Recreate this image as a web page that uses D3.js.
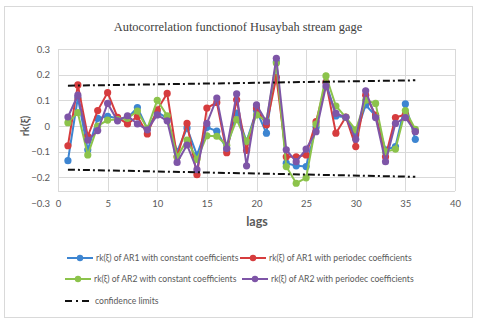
<!DOCTYPE html>
<meta charset="utf-8">
<style>
  body { margin: 0; background: #fff; }
  text { font-family: Lato, "Open Sans", sans-serif; fill: #595959; }
</style>
<svg width="480" height="323"></svg>
<script src="https://cdn.jsdelivr.net/npm/d3@7"></script>
<script>

var lags = d3.range(1, 37);

var ar1Const = [-0.135, 0.11, -0.093, 0.03, 0.038, 0.03, 0.03, 0.072, -0.01, 0.055, 0.03, -0.10, -0.008, -0.113, -0.005, -0.02, -0.09, 0.05, -0.06, 0.06, -0.028, 0.25, -0.145, -0.155, -0.158, -0.005, 0.17, 0.039, 0.034, -0.035, 0.082, 0.04, -0.093, -0.08, 0.086, -0.052];
var ar1Period = [-0.077, 0.16, -0.04, 0.06, 0.13, 0.034, 0.008, 0.037, -0.031, 0.063, 0.127, -0.12, 0.01, -0.19, 0.07, 0.092, -0.104, 0.102, -0.095, 0.07, 0.004, 0.19, -0.12, -0.12, -0.113, 0.017, 0.17, -0.028, 0.035, -0.08, 0.12, 0.042, -0.12, 0.033, 0.045, -0.02];
var ar2Const = [0.013, 0.052, -0.113, 0.0, 0.023, 0.025, 0.03, 0.058, -0.01, 0.1, 0.04, -0.12, -0.055, -0.13, -0.038, -0.04, -0.075, 0.025, -0.06, 0.043, 0.02, 0.245, -0.158, -0.223, -0.202, 0.007, 0.195, 0.078, 0.034, -0.015, 0.1, 0.088, -0.1, -0.09, 0.06, -0.013];
var ar2Period = [0.035, 0.12, -0.055, -0.018, 0.088, 0.02, 0.04, 0.008, -0.015, 0.043, 0.02, -0.142, -0.074, -0.17, 0.01, 0.109, -0.088, 0.125, -0.155, 0.082, 0.017, 0.264, -0.093, -0.139, -0.09, -0.022, 0.156, 0.049, 0.034, -0.052, 0.137, 0.033, -0.139, 0.01, 0.033, -0.022];

// confidence limits at lag 1 and lag 36
var confLags = [1, 36];
var confUpper = [0.157, 0.178];
var confLower = [-0.17, -0.198];

var yTicks = [0.3, 0.2, 0.1, 0, -0.1, -0.2, -0.3];
var xTicks = [0, 5, 10, 15, 20, 25, 30, 35, 40];

var series = [
  {name: "rk(ξ) of AR1 with constant coefficients", values: ar1Const, color: "#3d85d1"},
  {name: "rk(ξ) of AR1 with periodec coefficients", values: ar1Period, color: "#d63c3e"},
  {name: "rk(ξ) of AR2 with constant coefficients", values: ar2Const, color: "#8cc34b"},
  {name: "rk(ξ) of AR2 with periodec coefficients", values: ar2Period, color: "#7e55a7"}
];

var svg = d3.select("svg");
var plotLeft = 58, plotRight = 455, plotTop = 49, plotBottom = 191;

var x = d3.scaleLinear().domain([0, 40]).range([plotLeft, plotRight]);
var y = d3.scaleLinear().domain([-0.3, 0.3]).range([203, plotTop]);

// outer frame
svg.append("rect")
    .attr("x", 4.5).attr("y", 6.5).attr("width", 468).attr("height", 311)
    .attr("fill", "none").attr("stroke", "#d9d9d9");

svg.append("text")
    .attr("x", 238).attr("y", 31)
    .attr("text-anchor", "middle")
    .style("font-family", "'Liberation Serif', 'DejaVu Serif', serif")
    .style("font-size", "12.4px")
    .style("fill", "#404040")
    .text("Autocorrelation  functionof Husaybah stream gage");

// grid
var grid = svg.append("g").attr("stroke", "#d9d9d9").attr("stroke-width", 1);
grid.selectAll(".h")
  .data(yTicks.filter(function(d) { return y(d) <= plotBottom; }))
  .enter().append("line")
    .attr("x1", plotLeft).attr("x2", plotRight)
    .attr("y1", function(d) { return Math.round(y(d)) + 0.5; })
    .attr("y2", function(d) { return Math.round(y(d)) + 0.5; });
grid.append("line")
    .attr("x1", plotLeft).attr("x2", plotRight)
    .attr("y1", plotBottom + 0.5).attr("y2", plotBottom + 0.5);
grid.selectAll(".v")
  .data(xTicks)
  .enter().append("line")
    .attr("y1", plotTop).attr("y2", plotBottom)
    .attr("x1", function(d) { return Math.round(x(d)) + 0.5; })
    .attr("x2", function(d) { return Math.round(x(d)) + 0.5; });

// axes (labels only)
var yAxis = svg.append("g")
    .attr("transform", "translate(" + plotLeft + ",0)")
    .call(d3.axisLeft(y).tickValues(yTicks).tickSize(0).tickPadding(8)
      .tickFormat(function(d) { return d === 0 ? "0" : d3.format(".1f")(d); }));
yAxis.select(".domain").remove();
yAxis.selectAll("text").style("font-size", "9.5px").style("fill", "#595959").style("font-family", "Lato, sans-serif");

var xAxis = svg.append("g")
    .attr("transform", "translate(0," + plotBottom + ")")
    .call(d3.axisBottom(x).tickValues(xTicks).tickSize(0).tickPadding(9));
xAxis.select(".domain").remove();
xAxis.selectAll("text").style("font-size", "9.5px").style("fill", "#595959").style("font-family", "Lato, sans-serif");

svg.append("text")
    .attr("transform", "translate(29,126) rotate(-90)")
    .attr("text-anchor", "middle")
    .style("font-size", "11px").style("font-weight", "bold")
    .text("rk(ξ)");

svg.append("text")
    .attr("x", 257).attr("y", 226)
    .attr("text-anchor", "middle")
    .style("font-size", "12.5px").style("font-weight", "bold")
    .text("lags");

// series
var line = d3.line()
    .x(function(d, i) { return x(lags[i]); })
    .y(function(d) { return y(d); });

series.forEach(function(s) {
  var g = svg.append("g");
  g.append("path")
      .attr("d", line(s.values))
      .attr("fill", "none")
      .attr("stroke", s.color)
      .attr("stroke-width", 2);
  g.selectAll("circle")
    .data(s.values)
    .enter().append("circle")
      .attr("cx", function(d, i) { return x(lags[i]); })
      .attr("cy", function(d) { return y(d); })
      .attr("r", 3.6)
      .attr("fill", s.color);
});

// confidence limits
var confLine = d3.line()
    .x(function(d, i) { return x(confLags[i]); })
    .y(function(d) { return y(d); });
[confUpper, confLower].forEach(function(c) {
  svg.append("path")
      .attr("d", confLine(c))
      .attr("fill", "none")
      .attr("stroke", "#111")
      .attr("stroke-width", 2)
      .attr("stroke-dasharray", "7,3,2,3");
});

// legend
var legendItems = [
  {s: series[0], x: 67, y: 258},
  {s: series[1], x: 240, y: 258},
  {s: series[2], x: 65, y: 279},
  {s: series[3], x: 242, y: 279}
];
legendItems.forEach(function(it) {
  var g = svg.append("g").attr("transform", "translate(" + it.x + "," + it.y + ")");
  g.append("line").attr("x1", 0).attr("x2", 26).attr("y1", 0).attr("y2", 0)
      .attr("stroke", it.s.color).attr("stroke-width", 2);
  g.append("circle").attr("cx", 13).attr("cy", 0).attr("r", 3.2).attr("fill", it.s.color);
  g.append("text").attr("x", 29).attr("y", 3.1)
      .style("font-size", "8.6px")
      .text(it.s.name);
});
var cg = svg.append("g").attr("transform", "translate(65,301)");
cg.append("line").attr("x1", 0).attr("x2", 27).attr("y1", 0).attr("y2", 0)
    .attr("stroke", "#111").attr("stroke-width", 2).attr("stroke-dasharray", "7,4,2,4");
cg.append("text").attr("x", 30).attr("y", 3.1).style("font-size", "8.6px").text("confidence limits");

</script>
